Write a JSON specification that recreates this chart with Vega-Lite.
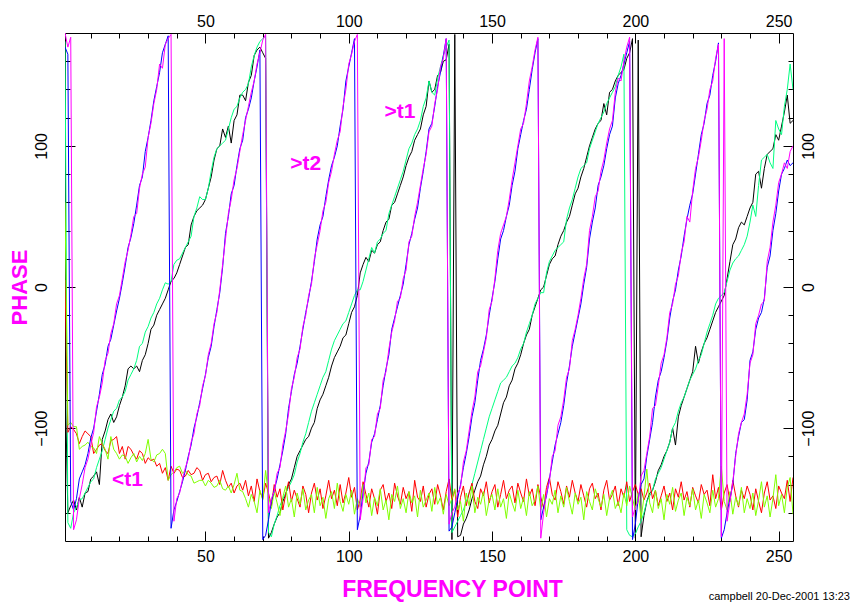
{
"$schema":"https://vega.github.io/schema/vega-lite/v6.json",
"width":728,"height":508,
"autosize":{"type":"none"},
"padding":{"left":65,"top":33,"right":66,"bottom":62},
"background":"white",
"config":{"view":{"stroke":null},"font":"Liberation Sans","axis":{"grid":false,"domainColor":"black","domainWidth":1,"tickColor":"black","tickWidth":1,"labelColor":"black","labelFont":"Liberation Sans","labelFontSize":16,"labelOverlap":false,"labelFlush":false,"labelBound":false}},
"title":{"text":"campbell 20-Dec-2001 13:23","orient":"bottom","anchor":"end","frame":"group","fontSize":11,"fontWeight":"normal","font":"Liberation Sans","color":"black","offset":-10,"dx":57},
"datasets":{
"phase":[
{"x":1,"m":180,"b":170,"k":-60,"g":174,"r":5,"c":60},
{"x":2,"m":170,"b":165,"k":-160,"g":-167,"r":-103,"c":-98},
{"x":3,"m":177,"b":-152,"k":-155,"g":-171,"r":-99,"c":-96},
{"x":4,"m":-172,"b":-158,"k":-151,"g":-160,"r":-101,"c":-99},
{"x":5,"m":-165,"b":-150,"k":-158,"g":-156,"r":-104,"c":-99},
{"x":6,"m":-150,"b":-136,"k":-149,"g":-151,"r":-111,"c":-115},
{"x":7,"m":-140,"b":-131,"k":-156,"g":-150,"r":-106,"c":-113},
{"x":8,"m":-128,"b":-126,"k":-146,"g":-146,"r":-102,"c":-112},
{"x":9,"m":-122,"b":-118,"k":-145,"g":-142,"r":-104,"c":-110},
{"x":10,"m":-112,"b":-107,"k":-136,"g":-138,"r":-106,"c":-113},
{"x":11,"m":-103,"b":-100,"k":-134,"g":-136,"r":-118,"c":-114},
{"x":12,"m":-85,"b":-88,"k":-131,"g":-128,"r":-115,"c":-118},
{"x":13,"m":-78,"b":-76,"k":-140,"g":-122,"r":-112,"c":-106},
{"x":14,"m":-68,"b":-62,"k":-108,"g":-116,"r":-111,"c":-111},
{"x":15,"m":-52,"b":-55,"k":-102,"g":-108,"r":-116,"c":-115},
{"x":16,"m":-47,"b":-42,"k":-94,"g":-100,"r":-118,"c":-122},
{"x":17,"m":-33,"b":-37,"k":-90,"g":-94,"r":-109,"c":-106},
{"x":18,"m":-26,"b":-27,"k":-96,"g":-88,"r":-108,"c":-115},
{"x":19,"m":-12,"b":-17,"k":-92,"g":-86,"r":-106,"c":-118},
{"x":20,"m":-6,"b":-8,"k":-84,"g":-80,"r":-118,"c":-122},
{"x":21,"m":6,"b":3,"k":-78,"g":-78,"r":-113,"c":-119},
{"x":22,"m":18,"b":15,"k":-70,"g":-74,"r":-122,"c":-120},
{"x":23,"m":26,"b":28,"k":-58,"g":-66,"r":-113,"c":-125},
{"x":24,"m":37,"b":35,"k":-56,"g":-62,"r":-115,"c":-121},
{"x":25,"m":50,"b":45,"k":-58,"g":-58,"r":-119,"c":-118},
{"x":26,"m":52,"b":58,"k":-56,"g":-52,"r":-122,"c":-124},
{"x":27,"m":70,"b":72,"k":-60,"g":-42,"r":-116,"c":-120},
{"x":28,"m":80,"b":78,"k":-52,"g":-40,"r":-118,"c":-123},
{"x":29,"m":85,"b":96,"k":-48,"g":-32,"r":-125,"c":-118},
{"x":30,"m":106,"b":106,"k":-40,"g":-28,"r":-121,"c":-108},
{"x":31,"m":116,"b":118,"k":-30,"g":-22,"r":-123,"c":-122},
{"x":32,"m":130,"b":132,"k":-27,"g":-18,"r":-122,"c":-124},
{"x":33,"m":140,"b":142,"k":-20,"g":-12,"r":-127,"c":-119},
{"x":34,"m":158,"b":152,"k":-16,"g":-8,"r":-125,"c":-118},
{"x":35,"m":155,"b":166,"k":-12,"g":-2,"r":-132,"c":-115},
{"x":36,"m":172,"b":172,"k":-8,"g":3,"r":-128,"c":-118},
{"x":37,"m":176,"b":178,"k":-2,"g":2,"r":-137,"c":-137},
{"x":38,"m":179,"b":-171,"k":4,"g":4,"r":-127,"c":-133},
{"x":39,"m":-166,"b":-158,"k":6,"g":16,"r":-132,"c":-131},
{"x":40,"m":-150,"b":-152,"k":10,"g":19,"r":-129,"c":-128},
{"x":41,"m":-146,"b":-145,"k":16,"g":20,"r":-130,"c":-127},
{"x":42,"m":-136,"b":-138,"k":22,"g":24,"r":-135,"c":-132},
{"x":43,"m":-128,"b":-130,"k":28,"g":28,"r":-134,"c":-130},
{"x":44,"m":-122,"b":-120,"k":30,"g":32,"r":-130,"c":-133},
{"x":45,"m":-110,"b":-112,"k":44,"g":36,"r":-133,"c":-134},
{"x":46,"m":-104,"b":-100,"k":50,"g":50,"r":-132,"c":-139},
{"x":47,"m":-90,"b":-92,"k":54,"g":56,"r":-128,"c":-138},
{"x":48,"m":-84,"b":-82,"k":56,"g":64,"r":-130,"c":-137},
{"x":49,"m":-70,"b":-72,"k":58,"g":62,"r":-137,"c":-137},
{"x":50,"m":-63,"b":-62,"k":62,"g":62,"r":-133,"c":-141},
{"x":51,"m":-48,"b":-50,"k":70,"g":70,"r":-132,"c":-137},
{"x":52,"m":-40,"b":-42,"k":78,"g":82,"r":-138,"c":-139},
{"x":53,"m":-26,"b":-28,"k":90,"g":92,"r":-135,"c":-142},
{"x":54,"m":-18,"b":-16,"k":98,"g":98,"r":-134,"c":-141},
{"x":55,"m":-2,"b":-4,"k":100,"g":100,"r":-140,"c":-137},
{"x":56,"m":16,"b":14,"k":112,"g":102,"r":-130,"c":-143},
{"x":57,"m":34,"b":38,"k":106,"g":104,"r":-137,"c":-144},
{"x":58,"m":52,"b":50,"k":114,"g":112,"r":-142,"c":-141},
{"x":59,"m":62,"b":66,"k":102,"g":120,"r":-139,"c":-146},
{"x":60,"m":76,"b":72,"k":118,"g":126,"r":-146,"c":-140},
{"x":61,"m":84,"b":86,"k":122,"g":128,"r":-141,"c":-132},
{"x":62,"m":96,"b":98,"k":136,"g":134,"r":-139,"c":-144},
{"x":63,"m":108,"b":104,"k":136,"g":138,"r":-144,"c":-145},
{"x":64,"m":118,"b":120,"k":132,"g":140,"r":-137,"c":-150},
{"x":65,"m":128,"b":126,"k":145,"g":144,"r":-148,"c":-156},
{"x":66,"m":138,"b":134,"k":150,"g":156,"r":-141,"c":-147},
{"x":67,"m":146,"b":146,"k":164,"g":164,"r":-152,"c":-152},
{"x":68,"m":158,"b":156,"k":168,"g":170,"r":-136,"c":-160},
{"x":69,"m":166,"b":168,"k":170,"g":174,"r":-145,"c":-144},
{"x":70,"m":175,"b":-179,"k":166,"g":176,"r":-150,"c":-151},
{"x":71,"m":179,"b":-176,"k":162,"g":178,"r":-139,"c":-130},
{"x":72,"m":-160,"b":-165,"k":-178,"g":-174,"r":-146,"c":-148},
{"x":73,"m":-150,"b":-152,"k":-174,"g":-177,"r":-155,"c":-157},
{"x":74,"m":-145,"b":-144,"k":-168,"g":-168,"r":-140,"c":-145},
{"x":75,"m":-132,"b":-136,"k":-163,"g":-162,"r":-149,"c":-153},
{"x":76,"m":-128,"b":-126,"k":-160,"g":-155,"r":-143,"c":-162},
{"x":77,"m":-112,"b":-116,"k":-152,"g":-150,"r":-158,"c":-149},
{"x":78,"m":-102,"b":-104,"k":-147,"g":-146,"r":-147,"c":-141},
{"x":79,"m":-90,"b":-86,"k":-140,"g":-142,"r":-138,"c":-156},
{"x":80,"m":-72,"b":-74,"k":-136,"g":-138,"r":-152,"c":-150},
{"x":81,"m":-64,"b":-62,"k":-128,"g":-133,"r":-144,"c":-163},
{"x":82,"m":-50,"b":-54,"k":-120,"g":-124,"r":-150,"c":-146},
{"x":83,"m":-44,"b":-42,"k":-116,"g":-118,"r":-156,"c":-154},
{"x":84,"m":-28,"b":-30,"k":-112,"g":-110,"r":-141,"c":-143},
{"x":85,"m":-20,"b":-18,"k":-108,"g":-104,"r":-147,"c":-158},
{"x":86,"m":-6,"b":-8,"k":-106,"g":-96,"r":-160,"c":-151},
{"x":87,"m":2,"b":4,"k":-100,"g":-88,"r":-146,"c":-147},
{"x":88,"m":20,"b":18,"k":-96,"g":-82,"r":-139,"c":-160},
{"x":89,"m":30,"b":34,"k":-86,"g":-76,"r":-151,"c":-142},
{"x":90,"m":40,"b":44,"k":-80,"g":-70,"r":-143,"c":-155},
{"x":91,"m":54,"b":50,"k":-76,"g":-64,"r":-157,"c":-149},
{"x":92,"m":60,"b":64,"k":-70,"g":-60,"r":-148,"c":-164},
{"x":93,"m":74,"b":76,"k":-64,"g":-52,"r":-137,"c":-150},
{"x":94,"m":82,"b":86,"k":-56,"g":-44,"r":-150,"c":-145},
{"x":95,"m":94,"b":92,"k":-50,"g":-38,"r":-144,"c":-157},
{"x":96,"m":104,"b":100,"k":-46,"g":-34,"r":-155,"c":-139},
{"x":97,"m":110,"b":114,"k":-42,"g":-30,"r":-140,"c":-152},
{"x":98,"m":128,"b":126,"k":-36,"g":-26,"r":-153,"c":-159},
{"x":99,"m":140,"b":146,"k":-34,"g":-24,"r":-146,"c":-147},
{"x":100,"m":158,"b":156,"k":-26,"g":-18,"r":-135,"c":-154},
{"x":101,"m":165,"b":166,"k":-18,"g":-12,"r":-149,"c":-144},
{"x":102,"m":174,"b":176,"k":-14,"g":-6,"r":-142,"c":-161},
{"x":103,"m":179,"b":-172,"k":-6,"g":-2,"r":-158,"c":-150},
{"x":104,"m":-165,"b":-162,"k":10,"g":-2,"r":-151,"c":-156},
{"x":105,"m":-150,"b":-146,"k":16,"g":4,"r":-138,"c":-140},
{"x":106,"m":-128,"b":-132,"k":21,"g":12,"r":-147,"c":-153},
{"x":107,"m":-126,"b":-124,"k":18,"g":20,"r":-156,"c":-146},
{"x":108,"m":-108,"b":-110,"k":26,"g":28,"r":-143,"c":-162},
{"x":109,"m":-106,"b":-104,"k":24,"g":24,"r":-150,"c":-149},
{"x":110,"m":-90,"b":-94,"k":30,"g":32,"r":-161,"c":-155},
{"x":111,"m":-86,"b":-84,"k":32,"g":34,"r":-144,"c":-143},
{"x":112,"m":-66,"b":-70,"k":40,"g":38,"r":-140,"c":-158},
{"x":113,"m":-60,"b":-58,"k":46,"g":40,"r":-152,"c":-151},
{"x":114,"m":-44,"b":-48,"k":48,"g":52,"r":-146,"c":-165},
{"x":115,"m":-32,"b":-30,"k":58,"g":58,"r":-157,"c":-147},
{"x":116,"m":-24,"b":-22,"k":60,"g":64,"r":-139,"c":-152},
{"x":117,"m":-10,"b":-14,"k":66,"g":70,"r":-148,"c":-141},
{"x":118,"m":-8,"b":-6,"k":72,"g":76,"r":-154,"c":-157},
{"x":119,"m":6,"b":2,"k":78,"g":82,"r":-142,"c":-150},
{"x":120,"m":12,"b":16,"k":86,"g":90,"r":-150,"c":-160},
{"x":121,"m":32,"b":30,"k":92,"g":98,"r":-145,"c":-145},
{"x":122,"m":36,"b":38,"k":96,"g":102,"r":-159,"c":-153},
{"x":123,"m":50,"b":48,"k":104,"g":108,"r":-137,"c":-148},
{"x":124,"m":60,"b":56,"k":108,"g":112,"r":-149,"c":-163},
{"x":125,"m":72,"b":70,"k":112,"g":118,"r":-152,"c":-144},
{"x":126,"m":84,"b":82,"k":122,"g":128,"r":-141,"c":-156},
{"x":127,"m":94,"b":96,"k":128,"g":134,"r":-156,"c":-151},
{"x":128,"m":110,"b":112,"k":146,"g":146,"r":-147,"c":-146},
{"x":129,"m":114,"b":116,"k":138,"g":138,"r":-143,"c":-159},
{"x":130,"m":130,"b":128,"k":140,"g":136,"r":-154,"c":-142},
{"x":131,"m":140,"b":142,"k":150,"g":148,"r":-140,"c":-154},
{"x":132,"m":156,"b":152,"k":152,"g":156,"r":-148,"c":-149},
{"x":133,"m":162,"b":164,"k":160,"g":164,"r":-158,"c":-161},
{"x":134,"m":176,"b":176,"k":161,"g":170,"r":-145,"c":-147},
{"x":135,"m":-168,"b":-173,"k":172,"g":175,"r":-136,"c":-155},
{"x":136,"m":-160,"b":-170,"k":-179,"g":-174,"r":-151,"c":-150},
{"x":137,"m":-156,"b":-160,"k":179,"g":-170,"r":-144,"c":-143},
{"x":138,"m":-146,"b":-150,"k":-177,"g":-166,"r":-163,"c":-158},
{"x":139,"m":-142,"b":-140,"k":-176,"g":-162,"r":-149,"c":-152},
{"x":140,"m":-124,"b":-128,"k":-168,"g":-158,"r":-141,"c":-166},
{"x":141,"m":-116,"b":-118,"k":-164,"g":-152,"r":-155,"c":-146},
{"x":142,"m":-102,"b":-106,"k":-158,"g":-146,"r":-146,"c":-155},
{"x":143,"m":-88,"b":-92,"k":-150,"g":-140,"r":-139,"c":-141},
{"x":144,"m":-78,"b":-82,"k":-144,"g":-132,"r":-152,"c":-160},
{"x":145,"m":-60,"b":-66,"k":-138,"g":-124,"r":-157,"c":-149},
{"x":146,"m":-56,"b":-52,"k":-134,"g":-116,"r":-143,"c":-154},
{"x":147,"m":-46,"b":-44,"k":-126,"g":-108,"r":-148,"c":-145},
{"x":148,"m":-36,"b":-34,"k":-120,"g":-100,"r":-138,"c":-162},
{"x":149,"m":-16,"b":-20,"k":-112,"g":-92,"r":-153,"c":-151},
{"x":150,"m":-10,"b":-8,"k":-108,"g":-86,"r":-145,"c":-147},
{"x":151,"m":6,"b":4,"k":-102,"g":-80,"r":-140,"c":-158},
{"x":152,"m":26,"b":20,"k":-98,"g":-74,"r":-156,"c":-143},
{"x":153,"m":38,"b":34,"k":-90,"g":-68,"r":-147,"c":-156},
{"x":154,"m":44,"b":40,"k":-82,"g":-66,"r":-137,"c":-150},
{"x":155,"m":50,"b":50,"k":-78,"g":-64,"r":-150,"c":-164},
{"x":156,"m":62,"b":58,"k":-70,"g":-60,"r":-144,"c":-146},
{"x":157,"m":76,"b":72,"k":-66,"g":-56,"r":-141,"c":-153},
{"x":158,"m":88,"b":82,"k":-58,"g":-54,"r":-153,"c":-159},
{"x":159,"m":100,"b":98,"k":-54,"g":-50,"r":-139,"c":-144},
{"x":160,"m":112,"b":108,"k":-48,"g":-44,"r":-146,"c":-157},
{"x":161,"m":116,"b":118,"k":-40,"g":-40,"r":-152,"c":-149},
{"x":162,"m":130,"b":126,"k":-34,"g":-32,"r":-136,"c":-162},
{"x":163,"m":146,"b":140,"k":-30,"g":-26,"r":-148,"c":-145},
{"x":164,"m":156,"b":154,"k":-20,"g":-20,"r":-143,"c":-155},
{"x":165,"m":168,"b":166,"k":-14,"g":-12,"r":-155,"c":-151},
{"x":166,"m":177,"b":176,"k":-8,"g":-8,"r":-140,"c":-141},
{"x":167,"m":-178,"b":-165,"k":-2,"g":-4,"r":-149,"c":-158},
{"x":168,"m":-160,"b":-156,"k":0,"g":-4,"r":-157,"c":-147},
{"x":169,"m":-146,"b":-148,"k":8,"g":10,"r":-142,"c":-163},
{"x":170,"m":-138,"b":-136,"k":16,"g":18,"r":-135,"c":-150},
{"x":171,"m":-120,"b":-124,"k":20,"g":22,"r":-147,"c":-154},
{"x":172,"m":-116,"b":-112,"k":22,"g":26,"r":-151,"c":-144},
{"x":173,"m":-98,"b":-104,"k":30,"g":28,"r":-138,"c":-160},
{"x":174,"m":-92,"b":-96,"k":36,"g":30,"r":-145,"c":-148},
{"x":175,"m":-80,"b":-84,"k":40,"g":32,"r":-154,"c":-156},
{"x":176,"m":-64,"b":-68,"k":46,"g":48,"r":-141,"c":-142},
{"x":177,"m":-58,"b":-56,"k":50,"g":56,"r":-149,"c":-152},
{"x":178,"m":-38,"b":-42,"k":58,"g":62,"r":-137,"c":-161},
{"x":179,"m":-30,"b":-32,"k":66,"g":70,"r":-146,"c":-146},
{"x":180,"m":-20,"b":-22,"k":70,"g":78,"r":-152,"c":-154},
{"x":181,"m":-8,"b":-12,"k":78,"g":84,"r":-140,"c":-149},
{"x":182,"m":6,"b":2,"k":84,"g":86,"r":-148,"c":-165},
{"x":183,"m":16,"b":14,"k":92,"g":88,"r":-156,"c":-145},
{"x":184,"m":40,"b":34,"k":100,"g":98,"r":-143,"c":-152},
{"x":185,"m":50,"b":46,"k":106,"g":104,"r":-139,"c":-158},
{"x":186,"m":64,"b":56,"k":112,"g":110,"r":-150,"c":-143},
{"x":187,"m":68,"b":72,"k":116,"g":116,"r":-146,"c":-150},
{"x":188,"m":82,"b":78,"k":118,"g":120,"r":-158,"c":-156},
{"x":189,"m":90,"b":86,"k":130,"g":124,"r":-144,"c":-147},
{"x":190,"m":102,"b":98,"k":122,"g":130,"r":-137,"c":-162},
{"x":191,"m":112,"b":108,"k":138,"g":134,"r":-151,"c":-150},
{"x":192,"m":118,"b":114,"k":140,"g":138,"r":-147,"c":-144},
{"x":193,"m":138,"b":134,"k":146,"g":142,"r":-141,"c":-157},
{"x":194,"m":148,"b":144,"k":150,"g":150,"r":-155,"c":-152},
{"x":195,"m":146,"b":150,"k":152,"g":156,"r":-143,"c":-160},
{"x":196,"m":160,"b":158,"k":154,"g":165,"r":-149,"c":-146},
{"x":197,"m":170,"b":166,"k":162,"g":-172,"r":-138,"c":-155},
{"x":198,"m":177,"b":174,"k":166,"g":-176,"r":-152,"c":-141},
{"x":199,"m":-163,"b":-179,"k":176,"g":-177,"r":-145,"c":-150},
{"x":200,"m":-156,"b":-168,"k":-178,"g":-175,"r":-140,"c":-158},
{"x":201,"m":-152,"b":-150,"k":175,"g":-170,"r":-147,"c":-146},
{"x":202,"m":-134,"b":-140,"k":-177,"g":-166,"r":-143,"c":-164},
{"x":203,"m":-130,"b":-136,"k":-162,"g":-160,"r":-151,"c":-149},
{"x":204,"m":-118,"b":-120,"k":-152,"g":-152,"r":-146,"c":-129},
{"x":205,"m":-106,"b":-108,"k":-146,"g":-148,"r":-139,"c":-153},
{"x":206,"m":-86,"b":-96,"k":-144,"g":-144,"r":-150,"c":-160},
{"x":207,"m":-84,"b":-78,"k":-138,"g":-136,"r":-144,"c":-144},
{"x":208,"m":-70,"b":-66,"k":-130,"g":-132,"r":-155,"c":-157},
{"x":209,"m":-54,"b":-60,"k":-126,"g":-128,"r":-148,"c":-150},
{"x":210,"m":-48,"b":-50,"k":-120,"g":-122,"r":-141,"c":-165},
{"x":211,"m":-36,"b":-38,"k":-116,"g":-116,"r":-152,"c":-147},
{"x":212,"m":-18,"b":-22,"k":-110,"g":-110,"r":-146,"c":-154},
{"x":213,"m":-12,"b":-10,"k":-100,"g":-100,"r":-158,"c":-142},
{"x":214,"m":2,"b":-2,"k":-112,"g":-96,"r":-143,"c":-159},
{"x":215,"m":8,"b":12,"k":-92,"g":-88,"r":-149,"c":-151},
{"x":216,"m":24,"b":22,"k":-84,"g":-82,"r":-138,"c":-146},
{"x":217,"m":32,"b":36,"k":-78,"g":-78,"r":-151,"c":-162},
{"x":218,"m":50,"b":48,"k":-72,"g":-72,"r":-145,"c":-149},
{"x":219,"m":46,"b":58,"k":-66,"g":-66,"r":-156,"c":-155},
{"x":220,"m":68,"b":66,"k":-60,"g":-62,"r":-142,"c":-143},
{"x":221,"m":84,"b":80,"k":-42,"g":-58,"r":-148,"c":-158},
{"x":222,"m":92,"b":94,"k":-54,"g":-52,"r":-153,"c":-151},
{"x":223,"m":104,"b":108,"k":-46,"g":-48,"r":-140,"c":-164},
{"x":224,"m":118,"b":116,"k":-40,"g":-40,"r":-147,"c":-147},
{"x":225,"m":126,"b":130,"k":-36,"g":-32,"r":-144,"c":-153},
{"x":226,"m":140,"b":136,"k":-30,"g":-26,"r":-155,"c":-160},
{"x":227,"m":146,"b":150,"k":-24,"g":-20,"r":-133,"c":-144},
{"x":228,"m":162,"b":160,"k":-18,"g":-12,"r":-150,"c":-156},
{"x":229,"m":172,"b":173,"k":-14,"g":-8,"r":-142,"c":-150},
{"x":230,"m":-177,"b":-178,"k":-10,"g":-6,"r":-158,"c":-127},
{"x":231,"m":176,"b":-172,"k":-6,"g":-4,"r":-146,"c":-152},
{"x":232,"m":-166,"b":-160,"k":6,"g":4,"r":-140,"c":-158},
{"x":233,"m":-152,"b":-150,"k":18,"g":12,"r":-152,"c":-145},
{"x":234,"m":-138,"b":-140,"k":30,"g":17,"r":-137,"c":-161},
{"x":235,"m":-120,"b":-118,"k":34,"g":20,"r":-148,"c":-149},
{"x":236,"m":-104,"b":-106,"k":42,"g":22,"r":-156,"c":-155},
{"x":237,"m":-96,"b":-96,"k":46,"g":26,"r":-144,"c":-142},
{"x":238,"m":-90,"b":-94,"k":44,"g":30,"r":-150,"c":-160},
{"x":239,"m":-76,"b":-80,"k":50,"g":36,"r":-141,"c":-150},
{"x":240,"m":-54,"b":-52,"k":56,"g":46,"r":-147,"c":-157},
{"x":241,"m":-48,"b":-46,"k":60,"g":58,"r":-158,"c":-146},
{"x":242,"m":-26,"b":-30,"k":80,"g":50,"r":-143,"c":-162},
{"x":243,"m":-20,"b":-22,"k":82,"g":72,"r":-152,"c":-151},
{"x":244,"m":-12,"b":-18,"k":70,"g":90,"r":-160,"c":-138},
{"x":245,"m":-10,"b":-8,"k":84,"g":92,"r":-146,"c":-156},
{"x":246,"m":18,"b":14,"k":94,"g":94,"r":-138,"c":-148},
{"x":247,"m":28,"b":22,"k":96,"g":88,"r":-151,"c":-163},
{"x":248,"m":46,"b":40,"k":98,"g":84,"r":-148,"c":-150},
{"x":249,"m":58,"b":52,"k":108,"g":118,"r":-157,"c":-133},
{"x":250,"m":74,"b":68,"k":104,"g":112,"r":-141,"c":-155},
{"x":251,"m":80,"b":80,"k":114,"g":108,"r":-146,"c":-147},
{"x":252,"m":88,"b":84,"k":124,"g":128,"r":-150,"c":-160},
{"x":253,"m":84,"b":90,"k":136,"g":140,"r":-137,"c":-142},
{"x":254,"m":96,"b":86,"k":116,"g":158,"r":-152,"c":-135},
{"x":255,"m":100,"b":88,"k":118,"g":140,"r":-135,"c":-161}
],
"notes":[
{"x":112.5,"y":123.7,"t":">t1"},
{"x":79.6,"y":87.2,"t":">t2"},
{"x":17.4,"y":-137.1,"t":"<t1"}
]
},
"layer":[
{
"data":{"name":"phase"},
"transform":[{"fold":["k","g","r","c","b","m"],"as":["series","phase"]}],
"mark":{"type":"line","strokeWidth":1,"clip":true,"interpolate":"linear"},
"encoding":{
"x":{"field":"x","type":"quantitative","scale":{"domain":[1,255],"nice":false,"zero":false},
"axis":{"orient":"bottom","values":[10,20,30,40,50,60,70,80,90,100,110,120,130,140,150,160,170,180,190,200,210,220,230,240,250],
"labelExpr":"datum.value % 50 === 0 ? datum.label : ''",
"tickSize":{"condition":{"test":"datum.value % 50 === 0","value":-10},"value":-5},
"labelPadding":17,
"title":"FREQUENCY POINT","titleFont":"Liberation Sans","titleFontSize":23,"titleFontWeight":"bold","titleColor":"#ff00ff","titlePadding":9,"titleX":387}},
"y":{"field":"phase","type":"quantitative","scale":{"domain":[-180,180],"nice":false,"zero":false},
"axis":{"orient":"left","values":[-160,-140,-120,-100,-80,-60,-40,-20,0,20,40,60,80,100,120,140,160],
"labelExpr":"datum.value % 100 === 0 ? datum.label : ''",
"tickSize":{"condition":{"test":"datum.value % 100 === 0","value":-10},"value":-5},
"labelAngle":-90,"labelPadding":26,
"title":"PHASE","titleFont":"Liberation Sans","titleFontSize":22,"titleFontWeight":"bold","titleColor":"#ff00ff","titlePadding":-3}},
"color":{"field":"series","type":"nominal","scale":{"domain":["k","g","r","c","b","m"],"range":["#000000","#00ff80","#ff0000","#80ff00","#0000ff","#ff00ff"]},"legend":null}
}
},
{
"data":{"name":"notes"},
"mark":{"type":"text","color":"#ff00ff","font":"Liberation Sans","fontWeight":"bold","fontSize":21,"align":"left","baseline":"middle"},
"encoding":{
"x":{"field":"x","type":"quantitative",
"axis":{"orient":"top","values":[10,20,30,40,50,60,70,80,90,100,110,120,130,140,150,160,170,180,190,200,210,220,230,240,250],
"labelExpr":"datum.value % 50 === 0 ? datum.label : ''",
"tickSize":{"condition":{"test":"datum.value % 50 === 0","value":-10},"value":-5},
"labelPadding":14,"title":null}},
"y":{"field":"y","type":"quantitative",
"axis":{"orient":"right","values":[-160,-140,-120,-100,-80,-60,-40,-20,0,20,40,60,80,100,120,140,160],
"labelExpr":"datum.value % 100 === 0 ? datum.label : ''",
"tickSize":{"condition":{"test":"datum.value % 100 === 0","value":-10},"value":-5},
"labelAngle":-90,"labelPadding":17,"title":null}},
"text":{"field":"t","type":"nominal"}
}
}
],
"resolve":{"axis":{"x":"independent","y":"independent"}}
}
